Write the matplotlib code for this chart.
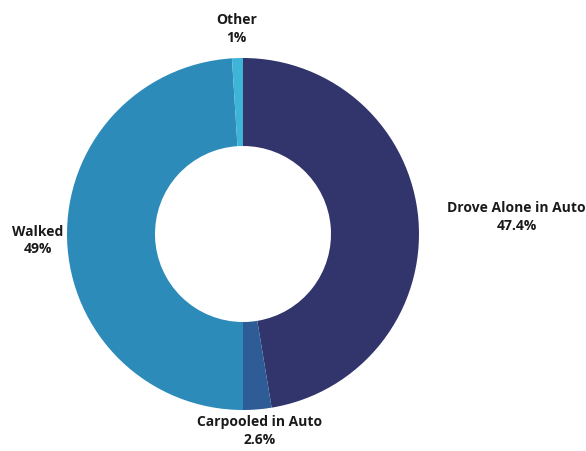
import numpy as np
import matplotlib.pyplot as plt

modes = ["Drove Alone in Auto", "Carpooled in Auto", "Walked", "Other"]
shares = [47.4, 2.6, 49, 1]
pct_labels = ["47.4%", "2.6%", "49%", "1%"]
colors = ["#32356c", "#2e5c96", "#2d8bba", "#3db4d8"]

plt.rcParams['font.family'] = ['Open Sans', 'DejaVu Sans']

fig = plt.figure(figsize=(5.86, 4.51), dpi=100)
ax = fig.add_axes([0, 0, 1, 1])

cx, cy, r = 243, 217, 176
wedges, _ = ax.pie(shares, colors=colors, startangle=90, counterclock=False,
                   center=(cx, cy), radius=r, frame=True,
                   wedgeprops=dict(width=r * 0.5, linewidth=0))
ax.set_xlim(0, 586)
ax.set_ylim(0, 451)
ax.set_aspect('equal')
ax.axis('off')

# labels sit on a ring outside the donut, at each wedge's middle angle
lab_r = 205
for w, name, pct in zip(wedges, modes, pct_labels):
    ang = np.deg2rad((w.theta1 + w.theta2) / 2)
    x = cx + lab_r * np.cos(ang)
    y = max(cy + lab_r * np.sin(ang), 20)  # keep the bottom label on the canvas
    ha = 'left' if np.cos(ang) > 0.8 else 'center'
    ax.text(x, y, f"{name}\n{pct}", ha=ha, va='center', multialignment='center',
            fontsize=10, fontweight='bold', color='#1a1a1a', linespacing=1.35)

fig.savefig("out.png", dpi=100)
